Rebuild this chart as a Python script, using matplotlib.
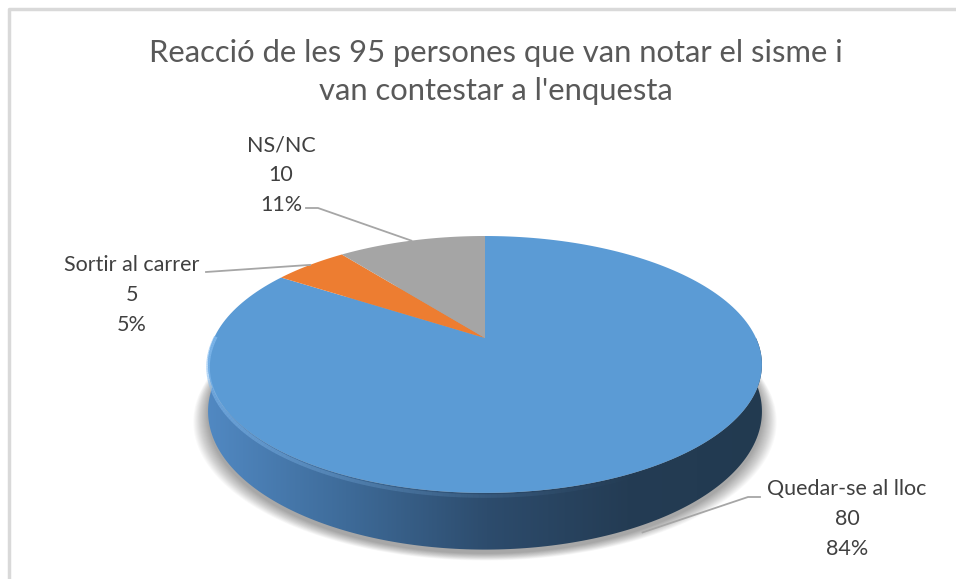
import numpy as np
import matplotlib.pyplot as plt
from matplotlib.patches import Polygon
from matplotlib.colors import LinearSegmentedColormap

categories = ["Quedar-se al lloc", "Sortir al carrer", "NS/NC"]
values = [80, 5, 10]
colors = ["#5b9bd5", "#ed7d31", "#a5a5a5"]
title = "Reacció de les 95 persones que van notar el sisme i\nvan contestar a l'enquesta"

plt.rcParams['font.family'] = ['Lato', 'DejaVu Sans']

W, H = 956, 579
fig = plt.figure(figsize=(W / 100, H / 100), dpi=100)
ax = fig.add_axes([0, 0, 1, 1])
ax.set_xlim(0, W)
ax.set_ylim(H, 0)
ax.axis('off')

# perspective view of the pie disc
cx, cy = 485, 338
A, B, k = 271, 123, 0.206
D = 45


def proj(theta, drop=0.0):
    u, v = np.cos(theta), np.sin(theta)
    s = 1 / (1 + k * v)
    return cx + A * u * s, cy - B * v * s + drop * s


total = sum(values)
fracs = [v / total for v in values]
# clockwise from 12 o'clock
starts = []
a = np.pi / 2
for f in fracs:
    starts.append((a, a - 2 * np.pi * f))
    a -= 2 * np.pi * f

# soft shadow under the disc
th2 = np.linspace(0, 2 * np.pi, 300)
for g in np.linspace(1, 16, 16):
    xs, ys = proj(th2, D + 3)
    xs = cx + (xs - cx) * (1 + g / 300)
    ys = ys + g * 0.45
    ax.add_patch(Polygon(np.c_[xs, ys], closed=True, fc="#000000", ec="none",
                         alpha=0.024, zorder=1))

# side (front, all blue)
th = np.linspace(np.pi, 2 * np.pi, 200)
xt, yt = proj(th)
xb, yb = proj(th[::-1], D)
side = Polygon(np.r_[np.c_[xt, yt], np.c_[xb, yb]], closed=True, fc="none", ec="none", zorder=2)
ax.add_patch(side)
cmap = LinearSegmentedColormap.from_list("side", ["#5189c3", "#3e6b99", "#2d4c6d", "#243c54", "#223a50"])
grad = np.linspace(0, 1, 256).reshape(1, -1)
im = ax.imshow(grad, cmap=cmap, extent=[205, 768, 560, 330], aspect='auto', zorder=2)
im.set_clip_path(side)

# top face wedges
for (a0, a1), c in zip(starts, colors):
    tt = np.linspace(a0, a1, 200)
    xs, ys = proj(tt)
    pts = np.r_[[[cx, cy]], np.c_[xs, ys]]
    ax.add_patch(Polygon(pts, closed=True, fc=c, ec="none", zorder=3))

# bevel highlight on front rim, fading to the right
tr = np.linspace(np.pi * 0.99, np.pi * 1.65, 120)
xr, yr = proj(tr, 2.5)
for j in range(len(tr) - 1):
    al = 0.75 * (1 - j / len(tr)) ** 1.3
    ax.plot(xr[j:j + 2], yr[j:j + 2], color="#86bdf0", lw=2.6, alpha=al, zorder=4,
            solid_capstyle='butt')

# title
ax.text(496, 72, title, ha='center', va='center', fontsize=22.3, color="#595959",
        linespacing=1.45)

# labels with leader lines
lab_pos = [(847, 519), (132, 295), (281, 175)]
line_pts = [[(760, 497), (748, 497)], [(206, 272)], [(306, 208), (318, 208)]]
for i, (cat, v) in enumerate(zip(categories, values)):
    a0, a1 = starts[i]
    mid = (a0 + a1) / 2
    drop = D + 6 if np.sin(mid) < -0.3 else 0
    ex, ey = proj(mid, drop)
    pts = line_pts[i] + [(ex, ey)]
    ax.plot([p[0] for p in pts], [p[1] for p in pts], color="#a6a6a6", lw=1.3, zorder=5)
    pct = round(100 * v / total)
    ax.text(lab_pos[i][0], lab_pos[i][1], f"{cat}\n{v}\n{pct}%", ha='center', va='center',
            fontsize=15.5, color="#404040", linespacing=1.62, zorder=6)

# chart frame (top and left edges visible)
ax.plot([9, 9, W], [H, 9, 9], color="#d9d9d9", lw=2.5, zorder=7)

fig.savefig("out.png", dpi=100)
